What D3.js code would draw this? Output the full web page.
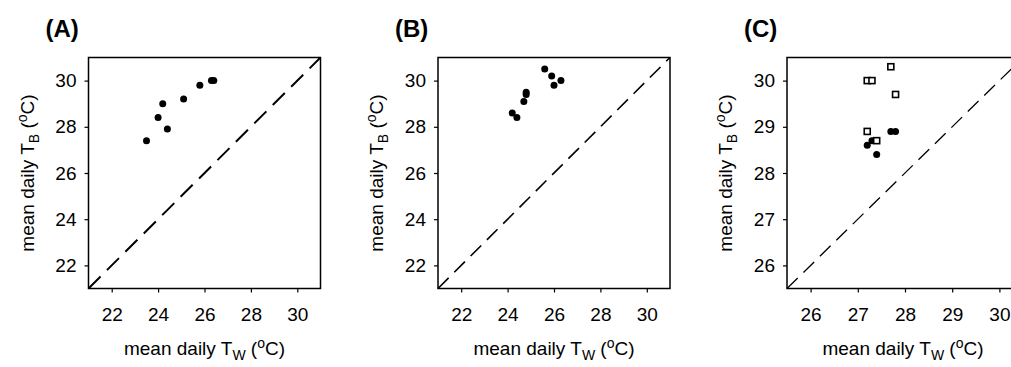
<!DOCTYPE html>
<html>
<head>
<meta charset="utf-8">
<script src="https://d3js.org/d3.v7.min.js"></script>
<style>
  body { margin: 0; background: #fff; }
  text { font-family: "Liberation Sans", Arial, sans-serif; fill: #000; }
</style>
</head>
<body>
<script>
// panel A
const aTw = [23.5, 24.0, 24.2, 24.4, 25.1, 25.8, 26.3, 26.4];
const aTb = [27.4, 28.4, 29.0, 27.9, 29.2, 29.8, 30.0, 30.0];
// panel B
const bTw = [24.2, 24.4, 24.7, 24.8, 24.8, 25.6, 25.9, 26.0, 26.3];
const bTb = [28.6, 28.4, 29.1, 29.4, 29.5, 30.5, 30.2, 29.8, 30.0];
// panel C, filled circles and open squares
const cCircTw = [27.2, 27.3, 27.4, 27.7, 27.8];
const cCircTb = [28.6, 28.7, 28.4, 28.9, 28.9];
const cSqTw = [27.2, 27.3, 27.7, 27.8, 27.2, 27.4];
const cSqTb = [30.0, 30.0, 30.3, 29.7, 28.9, 28.7];

const ticksAB = [22, 24, 26, 28, 30];
const ticksC = [26, 27, 28, 29, 30];

const svg = d3.select('body')
  .append('svg')
  .attr('width', 1011)
  .attr('height', 367);

const panels = [
  { label: '(A)', left: 88.5, w: 232, domain: [21, 31], ticks: ticksAB,
    circles: aTw.map((x, i) => [x, aTb[i]]), squares: [], lw: 2, dash: '17,9' },
  { label: '(B)', left: 438, w: 232, domain: [21, 31], ticks: ticksAB,
    circles: bTw.map((x, i) => [x, bTb[i]]), squares: [], lw: 1.6, dash: '15,8' },
  { label: '(C)', left: 787, w: 236, domain: [25.5, 30.5], ticks: ticksC,
    circles: cCircTw.map((x, i) => [x, cCircTb[i]]),
    squares: cSqTw.map((x, i) => [x, cSqTb[i]]), lw: 1.3, dash: '15,8' },
];

const plotTop = 57.5;
const h = 231;

panels.forEach(p => {
  const g = svg.append('g')
    .attr('transform', `translate(${p.left}, ${plotTop})`);

  const x = d3.scaleLinear().domain(p.domain).range([0, p.w]);
  const y = d3.scaleLinear().domain(p.domain).range([h, 0]);

  // axes
  const xAxis = g.append('g')
    .attr('transform', `translate(0, ${h})`)
    .call(d3.axisBottom(x).tickValues(p.ticks).tickSize(4).tickPadding(15).tickFormat(d3.format('d')));
  const yAxis = g.append('g')
    .call(d3.axisLeft(y).tickValues(p.ticks).tickSize(4).tickPadding(8).tickFormat(d3.format('d')));
  [xAxis, yAxis].forEach(a => {
    a.select('.domain').remove();
    a.selectAll('line').attr('stroke', '#000').attr('stroke-width', 1.2);
    a.selectAll('text').attr('font-size', 19).attr('font-family', '"Liberation Sans", Arial, sans-serif');
  });

  // 1:1 line
  g.append('line')
    .attr('x1', x(p.domain[0])).attr('y1', y(p.domain[0]))
    .attr('x2', x(p.domain[1])).attr('y2', y(p.domain[1]))
    .attr('stroke', '#000')
    .attr('stroke-width', p.lw)
    .attr('stroke-dasharray', p.dash);

  g.selectAll('circle.pt')
    .data(p.circles)
    .enter()
    .append('circle')
    .attr('class', 'pt')
    .attr('cx', d => x(d[0]))
    .attr('cy', d => y(d[1]))
    .attr('r', 3.5)
    .attr('fill', '#000');

  g.selectAll('rect.sq')
    .data(p.squares)
    .enter()
    .append('rect')
    .attr('class', 'sq')
    .attr('x', d => x(d[0]) - 3)
    .attr('y', d => y(d[1]) - 3)
    .attr('width', 6)
    .attr('height', 6)
    .attr('fill', '#fff')
    .attr('stroke', '#000')
    .attr('stroke-width', 1.6);

  // frame
  g.append('rect')
    .attr('width', p.w)
    .attr('height', h)
    .attr('fill', 'none')
    .attr('stroke', '#000')
    .attr('stroke-width', 1.5);

  // panel label
  g.append('text')
    .attr('x', -43)
    .attr('y', -21)
    .attr('font-size', 24)
    .attr('font-weight', 'bold')
    .text(p.label);

  // x title
  const xt = g.append('text')
    .attr('x', 116)
    .attr('y', 355 - plotTop)
    .attr('text-anchor', 'middle')
    .attr('font-size', 19);
  xt.append('tspan').text('mean daily T');
  xt.append('tspan').attr('font-size', 14).attr('dy', 5).text('W');
  xt.append('tspan').attr('dy', -5).text(' (');
  xt.append('tspan').attr('font-size', 14).attr('dy', -7).text('o');
  xt.append('tspan').attr('dy', 7).text('C)');

  // y title
  const yt = g.append('text')
    .attr('transform', `translate(-55, ${h / 2}) rotate(-90)`)
    .attr('text-anchor', 'middle')
    .attr('font-size', 19);
  yt.append('tspan').text('mean daily T');
  yt.append('tspan').attr('font-size', 14).attr('dy', 5).text('B');
  yt.append('tspan').attr('dy', -5).text(' (');
  yt.append('tspan').attr('font-size', 14).attr('dy', -7).text('o');
  yt.append('tspan').attr('dy', 7).text('C)');
});
</script>
</body>
</html>
